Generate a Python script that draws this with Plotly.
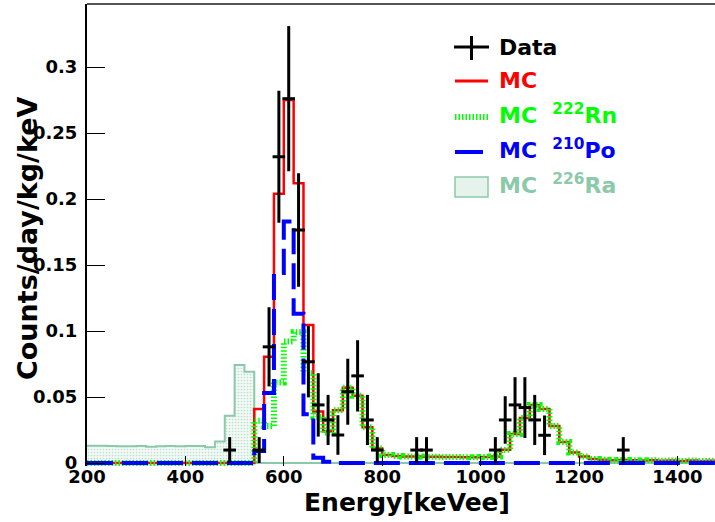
import numpy as np
import plotly.graph_objects as go

# ---------------- data ----------------
bin_width = 20
bin_lo = list(range(200, 1500, 20))  # 65 bins, lower edges

ra226 = [0.0131, 0.0131, 0.0128, 0.0126, 0.0127, 0.0129, 0.0123, 0.0126, 0.0129,
         0.0126, 0.0128, 0.0128, 0.0119, 0.0162, 0.0358, 0.0742, 0.0692] + [0.0] * 48

po210 = [0.0] * 17 + [0.009, 0.053, 0.144, 0.183, 0.113, 0.037, 0.004, 0.001] + [0.0] * 40

rn222 = [0.0] * 17 + [
    0.032, 0.028, 0.061, 0.092, 0.099, 0.068, 0.035, 0.023,   # 540-680
    0.040, 0.057, 0.051, 0.027, 0.011, 0.006, 0.0053, 0.005,  # 700-840
    0.005, 0.0048, 0.0048, 0.0046, 0.0045, 0.0044, 0.0043, 0.0045,  # 860-1000
    0.005, 0.010, 0.022, 0.034, 0.044, 0.041, 0.028, 0.016,  # 1000-1140
    0.008, 0.005, 0.003, 0.0025, 0.002, 0.0022, 0.002, 0.0018,  # 1160-1300
    0.002, 0.0017, 0.0019, 0.0016, 0.0018, 0.0015, 0.0017, 0.0015]  # 1320-1460
rn222 = rn222[:65] + [0.0014] * (65 - len(rn222[:65]))

mc_total = [0.0] * 17 + [0.041, 0.0805, 0.204, 0.275, 0.212, 0.1045, 0.039, 0.024] + rn222[25:]

data_x = [490, 550, 570, 590, 610, 630, 650, 670, 690, 710, 730, 750, 770, 790,
          870, 890, 1030, 1050, 1070, 1090, 1110, 1130, 1290]
data_y = [0.0098, 0.0098, 0.088, 0.232, 0.276, 0.1765, 0.0767, 0.044, 0.0326, 0.0212,
          0.054, 0.066, 0.0326, 0.0098, 0.0098, 0.0098, 0.0098, 0.0326, 0.044, 0.042,
          0.0326, 0.021, 0.0098]
data_err = [0.0098, 0.0098, 0.030, 0.050, 0.055, 0.043, 0.027, 0.024, 0.019, 0.015,
            0.025, 0.027, 0.019, 0.0098, 0.0098, 0.0098, 0.0098, 0.018, 0.021, 0.023,
            0.019, 0.015, 0.0098]

x_ticks = [200, 400, 600, 800, 1000, 1200, 1400]

# ---------------- figure ----------------
W, H = 715, 522
PXY = 1320.0            # pixels per count unit on y
EXT = 3                 # plot area extends a few px below y=0
L, R, T, B = 87, 0, 4, 59 - EXT
pw, ph = W - L - R, H - T - B
Y0PX = H - 59           # pixel row of y = 0

def px2x(px):
    return (px - L) / pw

def py2y(py):
    return (H - B - py) / ph

edges = bin_lo + [bin_lo[-1] + bin_width]

def step(vals):
    return list(vals) + [vals[-1]]

FONT = "DejaVu Sans"
RED = "#ff0000"
GREEN = "#00ff00"
BLUE = "#0000ff"
TEAL = "#8cc9aa"

fig = go.Figure()

fig.add_trace(go.Scatter(
    x=edges, y=step(ra226), mode="lines", line=dict(shape="hv", color=TEAL, width=2),
    fill="tozeroy", fillcolor="rgba(0,0,0,0)",
    fillpattern=dict(shape=".", fgcolor="#86c0a4", bgcolor="#f3faf6", size=3, solidity=0.25),
    showlegend=False, hoverinfo="skip"))

fig.add_trace(go.Scatter(
    x=edges, y=step(mc_total), mode="lines", line=dict(shape="hv", color=RED, width=2.5),
    showlegend=False))

fig.add_trace(go.Scatter(
    x=edges, y=step(rn222), mode="lines",
    line=dict(shape="hv", color=GREEN, width=6, dash="1.5px,2px"),
    showlegend=False))

fig.add_trace(go.Scatter(
    x=edges, y=step(po210), mode="lines",
    line=dict(shape="hv", color=BLUE, width=4, dash="26px,9px"),
    showlegend=False))

fig.add_trace(go.Scatter(
    x=data_x, y=data_y, mode="markers",
    marker=dict(symbol="line-ew", size=9, color="black", line=dict(color="black", width=3)),
    error_y=dict(type="data", array=data_err, visible=True, color="black", thickness=3, width=0),
    cliponaxis=False, showlegend=False))

fig.update_layout(
    width=W, height=H, margin=dict(l=L, r=R, t=T, b=B),
    paper_bgcolor="white", plot_bgcolor="white",
    font=dict(family=FONT, color="black"),
    showlegend=False,
)

fig.update_xaxes(
    range=[200, 200 + pw / 0.492], tickmode="array", tickvals=x_ticks,
    ticktext=[str(v) for v in x_ticks],
    ticks="inside", ticklen=10, tickwidth=1, tickcolor="black",
    showline=False, showgrid=False, zeroline=False, ticklabelstandoff=-2,
    tickfont=dict(family=FONT, size=18, weight="bold", color="black"),
)
fig.update_yaxes(
    range=[-EXT / PXY, (Y0PX - T) / PXY], dtick=0.05, tick0=0,
    ticks="inside", ticklen=18, tickwidth=1, tickcolor="black",
    showline=True, linecolor="black", linewidth=2,
    showgrid=False, zeroline=False, ticklabelstandoff=4,
    tickfont=dict(family=FONT, size=18, weight="bold", color="black"),
)

shapes = []
# top frame
shapes.append(dict(type="line", xref="paper", yref="paper", x0=0, x1=1, y0=1, y1=1,
                   line=dict(color="#555555", width=2)))
# legend glyphs
yD, yM, yRn, yPo, yRa = 47, 81, 117, 152, 187
shapes.append(dict(type="line", xref="paper", yref="paper", x0=px2x(454), x1=px2x(489),
                   y0=py2y(yD), y1=py2y(yD), line=dict(color="black", width=3)))
shapes.append(dict(type="line", xref="paper", yref="paper", x0=px2x(471.5), x1=px2x(471.5),
                   y0=py2y(yD - 11), y1=py2y(yD + 13), line=dict(color="black", width=3)))
shapes.append(dict(type="line", xref="paper", yref="paper", x0=px2x(455), x1=px2x(488),
                   y0=py2y(yM), y1=py2y(yM), line=dict(color=RED, width=3)))
shapes.append(dict(type="line", xref="paper", yref="paper", x0=px2x(455), x1=px2x(488),
                   y0=py2y(yRn), y1=py2y(yRn), line=dict(color=GREEN, width=6, dash="1.5px,2px")))
shapes.append(dict(type="line", xref="paper", yref="paper", x0=px2x(455), x1=px2x(483),
                   y0=py2y(yPo), y1=py2y(yPo), line=dict(color=BLUE, width=4)))
shapes.append(dict(type="rect", xref="paper", yref="paper", x0=px2x(455), x1=px2x(488),
                   y0=py2y(yRa - 10), y1=py2y(yRa + 10), fillcolor="#e6f3ec",
                   line=dict(color=TEAL, width=1.5)))
fig.update_layout(shapes=shapes)

def leg(text, py, color):
    fig.add_annotation(x=px2x(497), y=py2y(py), xref="paper", yref="paper",
                       text=text, showarrow=False, xanchor="left", yanchor="middle",
                       font=dict(family=FONT, size=22, weight="bold", color=color))

leg("Data", yD, "black")
leg("MC", yM, RED)
leg("MC  <sup>222</sup>Rn", yRn - 3, GREEN)
leg("MC  <sup>210</sup>Po", yPo - 3, BLUE)
leg("MC  <sup>226</sup>Ra", yRa - 3, TEAL)

fig.add_annotation(x=px2x(407), y=py2y(503), xref="paper", yref="paper",
                   text="Energy[keVee]", showarrow=False, xanchor="center", yanchor="middle",
                   font=dict(family=FONT, size=25, weight="bold", color="black"))
fig.add_annotation(x=px2x(27), y=py2y(238), xref="paper", yref="paper",
                   text="Counts/day/kg/keV", showarrow=False, xanchor="center", yanchor="middle",
                   textangle=-90,
                   font=dict(family=FONT, size=27, weight="bold", color="black"))

fig.write_html("out.html", config={"displayModeBar": False},
               post_script="document.body.style.margin='0';")
